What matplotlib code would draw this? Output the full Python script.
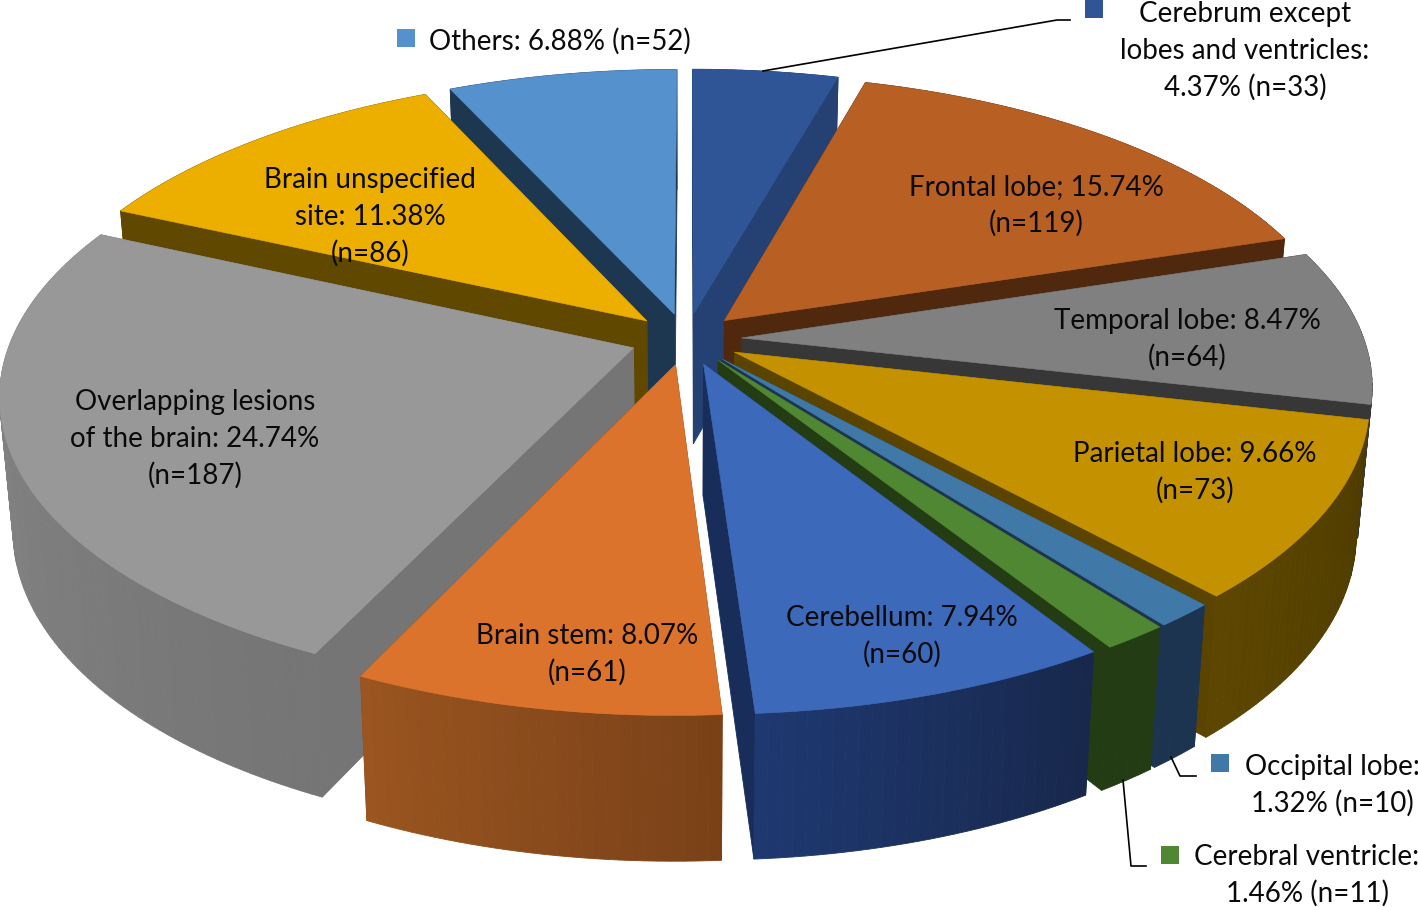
import numpy as np
import matplotlib
matplotlib.use('Agg')
from matplotlib import pyplot as plt
from matplotlib.colors import to_rgb

# slices go clockwise from 12 o'clock
sites = ['Cerebrum', 'Frontal', 'Temporal', 'Parietal', 'Occipital', 'Ventricle',
         'Cerebellum', 'Stem', 'Overlapping', 'Unspecified', 'Others']
percent = [4.37, 15.74, 8.47, 9.66, 1.32, 1.46, 7.94, 8.07, 24.74, 11.38, 6.88]

top_colors = ['#2f5597', '#b86024', '#808080', '#c49200', '#4079a8', '#508732',
              '#3c69b9', '#dc732d', '#989898', '#ecaf00', '#5591cd']
side_colors = ['#254072', '#50280e', '#373737', '#5a4400', '#1c3450', '#233c14',
               '#192d5a', '#8a4a1c', '#757575', '#604800', '#1e3750']
# rim colour at the clockwise start and end of each slice
rim_start = ['#254072', '#50280e', '#373737', '#4e3b00', '#1c3450', '#233c14',
             '#18284c', '#7a4118', '#757575', '#604800', '#1e3750']
rim_end = ['#254072', '#50280e', '#373737', '#5c4600', '#1c3450', '#233c14',
           '#1e3870', '#9a5520', '#8a8a8a', '#604800', '#1e3750']

# label text: (centre x, first line y, lines)
labels = [
    (560, 41, ['Others: 6.88% (n=52)']),
    (1245, 14, ['Cerebrum except', 'lobes and ventricles:', '4.37% (n=33)']),
    (1036, 187, ['Frontal lobe; 15.74%', '(n=119)']),
    (1187, 321, ['Temporal lobe: 8.47%', '(n=64)']),
    (1195, 454, ['Parietal lobe: 9.66%', '(n=73)']),
    (1332, 767, ['Occipital lobe:', '1.32% (n=10)']),
    (1307, 857, ['Cerebral ventricle:', '1.46% (n=11)']),
    (902, 618, ['Cerebellum: 7.94%', '(n=60)']),
    (587, 636, ['Brain stem: 8.07%', '(n=61)']),
    (195, 402, ['Overlapping lesions', 'of the brain: 24.74%', '(n=187)']),
    (370, 180, ['Brain unspecified', 'site: 11.38%', '(n=86)']),
]
line_step = 36.7

key_x = [406, 1094, 1220, 1170]
key_y = [38, 9, 763, 855]
key_colors = ['#5591cd', '#2f5597', '#4079a8', '#508732']

leader_x = [[763, 1057, 1070], [1171, 1180, 1196], [1123, 1131, 1146]]
leader_y = [[71, 20, 20], [757, 776, 776], [780, 866, 866]]

# projection of the tilted disc
cx, cy = 686, 339
ax_x, ax_y = 655, 304
persp = 0.16
radius = 0.95
depth, depth_persp, shrink = 131, 0.14, 0.02
explode = 0.085


def project(x, y, z=0.0):
    w = (1 + persp * y) * (1 + shrink * z)
    return cx + ax_x * x / w, cy - ax_y * y / w + depth * z / (1 + depth_persp * y)


def mix(c1, c2, t):
    a, b = np.array(to_rgb(c1)), np.array(to_rgb(c2))
    return tuple(a + (b - a) * t)


fig = plt.figure(figsize=(14.18, 9.07), dpi=100)
ax = fig.add_axes([0, 0, 1, 1])
ax.set_xlim(0, 1418)
ax.set_ylim(907, 0)
ax.axis('off')

edges = np.radians(np.concatenate([[0], np.cumsum(percent)]) * 3.6)


def draw_slice(i):
    a0, a1 = edges[i], edges[i + 1]
    mid = (a0 + a1) / 2
    ox, oy = explode * np.sin(mid), explode * np.cos(mid)
    t = np.linspace(a0, a1, max(int((a1 - a0) * 60), 4))
    xs, ys = ox + radius * np.sin(t), oy + radius * np.cos(t)

    faces = []
    for ex, ey in [(xs[0], ys[0]), (xs[-1], ys[-1])]:
        px, py = project(np.array([ox, ex, ex, ox]), np.array([oy, ey, ey, oy]),
                         np.array([0, 0, 1, 1]))
        faces.append(((oy + ey) / 2, px, py, side_colors[i]))
    for k in range(len(t) - 1):
        px, py = project(xs[[k, k + 1, k + 1, k]], ys[[k, k + 1, k + 1, k]],
                         np.array([0, 0, 1, 1]))
        faces.append((ys[k], px, py, mix(rim_start[i], rim_end[i], k / (len(t) - 2))))
    # back faces first
    for _, px, py, col in sorted(faces, key=lambda f: -f[0]):
        ax.fill(px, py, color=col, lw=0.6, zorder=2)

    px, py = project(np.concatenate([[ox], xs]), np.concatenate([[oy], ys]))
    ax.fill(px, py, color=top_colors[i], lw=0.4, zorder=2)


mids = (edges[:-1] + edges[1:]) / 2
for i in np.argsort(-np.cos(mids)):
    draw_slice(i)

for lx, ly in zip(leader_x, leader_y):
    ax.plot(lx, ly, color='black', lw=1.2, zorder=3)

ax.scatter(key_x, key_y, marker='s', s=165, c=key_colors, linewidths=0, zorder=3)

for x, y, lines in labels:
    for n, line in enumerate(lines):
        ax.text(x, y + n * line_step, line, ha='center', va='center',
                family='Lato', fontsize=20, color='#0a0a0a', zorder=4)

fig.savefig('out.png', dpi=100)
